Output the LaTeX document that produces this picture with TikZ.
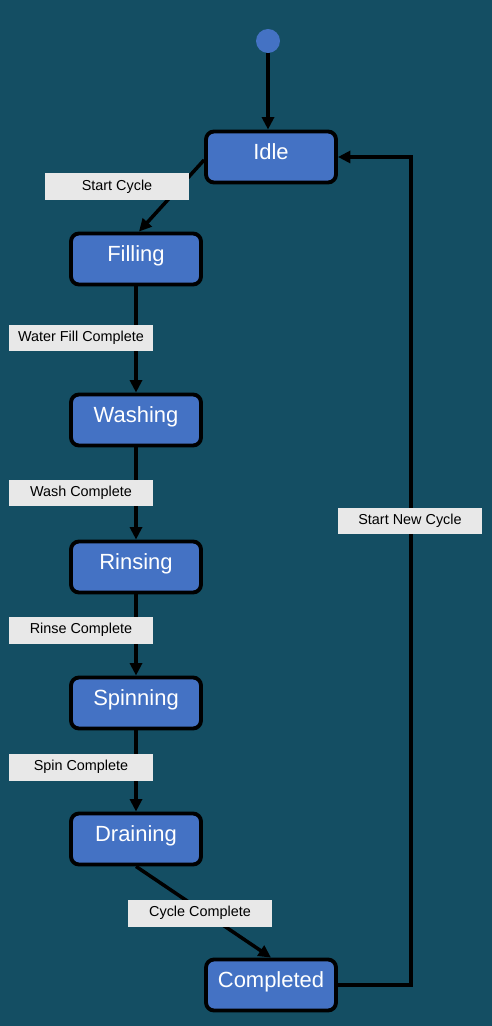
\documentclass[tikz,border=0pt]{standalone}
\usepackage{fontspec}
\setmainfont{Liberation Sans}
\usetikzlibrary{arrows.meta}

\definecolor{bgblue}{RGB}{20,78,99}
\definecolor{statefill}{RGB}{68,114,196}
\definecolor{triggerfill}{RGB}{232,232,232}

\tikzset{
  state/.style={draw=black, line width=2.2pt, fill=statefill, rounded corners=0.16cm,
    minimum width=2.6cm, minimum height=1.02cm, inner sep=0pt,
    text=white, font=\fontsize{12.5}{14}\selectfont, text height=0.38cm, text depth=0.27cm},
  trigger/.style={fill=triggerfill, minimum width=2.88cm, minimum height=0.54cm, inner sep=0pt,
    font=\fontsize{8.2}{10}\selectfont},
  flow/.style={line width=2pt, -{Triangle[length=0.25cm,width=0.24cm]}},
}

\begin{document}
\begin{tikzpicture}[x=0.02cm,y=-0.02cm]
\fill[bgblue] (0,0) rectangle (492,1026);

\node[circle, fill=statefill, minimum size=0.48cm, inner sep=0pt] (init) at (268,41) {};
\node[state] (idle)      at (271,157) {Idle};
\node[state] (filling)   at (136,259) {Filling};
\node[state] (washing)   at (136,420) {Washing};
\node[state] (rinsing)   at (136,567) {Rinsing};
\node[state] (spinning)  at (136,703) {Spinning};
\node[state] (draining)  at (136,839) {Draining};
\node[state] (completed) at (271,985) {Completed};
\coordinate (back) at (411,521);

\draw[flow] (init) -- (init |- idle.north);
\draw[flow] ([yshift=-0.06cm]idle.west) -- ([xshift=0.06cm]filling.north);
\draw[flow] (filling) -- (washing);
\draw[flow] (washing) -- (rinsing);
\draw[flow] (rinsing) -- (spinning);
\draw[flow] (spinning) -- (draining);
\draw[flow] (draining.south) -- (completed.north);
\draw[flow]
     (completed.east)
  -| (back)
  |- (idle.east);

\node[trigger] (tStart)  at (117,187) {Start Cycle};
\node[trigger] (tFill)   at (81,338)  {Water Fill Complete};
\node[trigger] (tWash)   at (81,493)  {Wash Complete};
\node[trigger] (tRinse)  at (81,630)  {Rinse Complete};
\node[trigger] (tSpin)   at (81,767)  {Spin Complete};
\node[trigger] (tCycle)  at (200,913) {Cycle Complete};
\node[trigger] (tNew)    at (410,521) {Start New Cycle};
\end{tikzpicture}
\end{document}
